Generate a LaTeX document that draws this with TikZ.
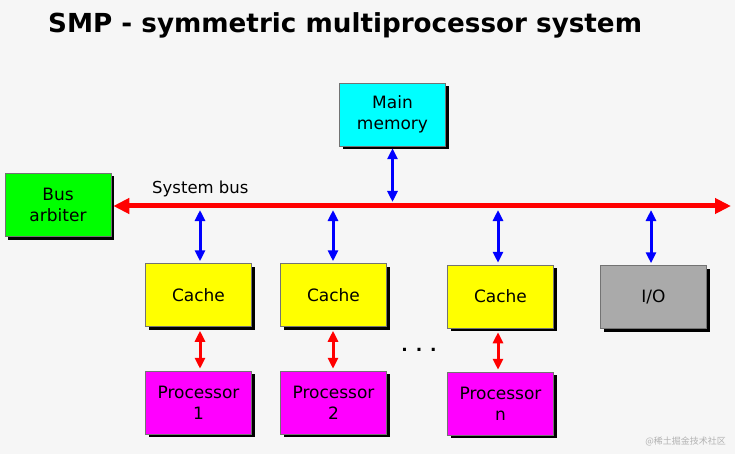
\documentclass[tikz,border=0pt]{standalone}
\usepackage{fontspec}
\setmainfont{DejaVu Sans}
\newfontfamily\cjkfont{Noto Sans CJK SC}
\usetikzlibrary{arrows.meta,shadows}
\definecolor{bggray}{HTML}{F6F6F6}
\definecolor{memcol}{HTML}{00FFFF}
\definecolor{arbcol}{HTML}{00FF00}
\definecolor{cachecol}{HTML}{FFFF00}
\definecolor{proccol}{HTML}{FF00FF}
\definecolor{iocol}{HTML}{AAAAAA}
\definecolor{buscol}{HTML}{FF0000}
\definecolor{linkcol}{HTML}{0000FF}
\begin{document}
\begin{tikzpicture}[x=1pt,y=-1pt,
  box/.style={draw=black!55, line width=0.5pt, minimum width=106pt, minimum height=63pt,
    inner sep=0pt, align=center, font=\fontsize{17}{21}\selectfont,
    drop shadow={shadow xshift=3pt, shadow yshift=-3pt, fill=black, opacity=1}},
  busarrow/.style={draw=buscol, line width=5pt, {Triangle[length=16pt,width=15pt]}-{Triangle[length=16pt,width=15pt]}},
  bluearrow/.style={draw=linkcol, line width=3pt, {Triangle[length=11pt,width=10pt]}-{Triangle[length=11pt,width=10pt]}},
  redarrow/.style={draw=buscol, line width=3pt, {Triangle[length=11pt,width=10pt]}-{Triangle[length=11pt,width=10pt]}},
  lbl/.style={font=\fontsize{16.5}{19}\selectfont, inner sep=0pt}
]
\useasboundingbox (0,0) rectangle (735,454);
\fill[bggray] (0,0) rectangle (735,454);

\node[anchor=base west, inner sep=0pt, font=\fontsize{26.2}{30}\selectfont\bfseries] (title) at (48,33) {SMP - symmetric multiprocessor system};

\node[box, fill=memcol] (mem) at (392.5,114.5) {Main\\memory};
\node[box, fill=arbcol] (arb) at (58,205) {Bus\\arbiter};
\node[box, fill=cachecol] (c1) at (198.5,295) {Cache};
\node[box, fill=cachecol] (c2) at (333.5,295) {Cache};
\node[box, fill=cachecol] (c3) at (500.5,296.5) {Cache};
\node[box, fill=iocol] (io) at (653.5,297) {I/O};
\node[box, fill=proccol] (p1) at (198.5,402.5) {Processor\\1};
\node[box, fill=proccol] (p2) at (333.5,402.5) {Processor\\2};
\node[box, fill=proccol] (pn) at (500.5,403.5) {Processor\\n};

\coordinate (busend) at (731,206);
\draw[busarrow] ([xshift=2pt]arb.east |- busend) -- (busend);
\node[lbl, anchor=base west] (buslabel) at (152,194) {System bus};

\draw[bluearrow] ([yshift=-2pt]mem.south) -- (mem.south |- 0,202);
\draw[bluearrow] (c1.north -| 200,0) ++(0,-2) -- (200,210);
\draw[bluearrow] (c2.north -| 333,0) ++(0,-2) -- (333,210);
\draw[bluearrow] (c3.north -| 498,0) ++(0,-2) -- (498,210);
\draw[bluearrow] (io.north -| 651,0) ++(0,-2) -- (651,210);

\draw[redarrow] ([yshift=-4pt]c1.south -| 200,0) -- ([yshift=2pt]p1.north -| 200,0);
\draw[redarrow] ([yshift=-4pt]c2.south -| 333,0) -- ([yshift=2pt]p2.north -| 333,0);
\draw[redarrow] ([yshift=-4pt]c3.south -| 498,0) -- ([yshift=2pt]pn.north -| 498,0);

\node[font=\fontsize{17}{20}\selectfont\bfseries, inner sep=0pt] (dots) at (419,350) {. . .};

\node[font=\fontsize{9}{10}\cjkfont, text=black!30, anchor=east, inner sep=0pt] (wm) at (726,441) {@稀土掘金技术社区};
\end{tikzpicture}
\end{document}
